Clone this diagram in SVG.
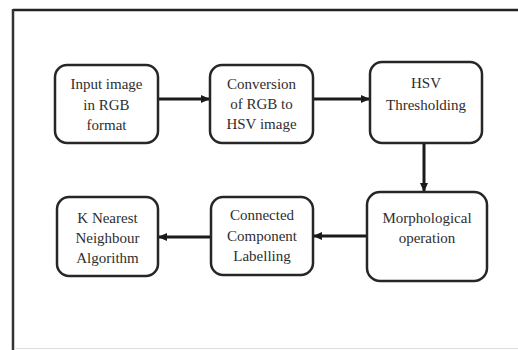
<svg xmlns="http://www.w3.org/2000/svg" width="518" height="350" viewBox="0 0 518 350">
<defs>
<marker id="ah" markerWidth="10" markerHeight="10" refX="8" refY="5" orient="auto" markerUnits="userSpaceOnUse">
<path d="M0,1 L9,5 L0,9 Z" fill="#1a1a1a"/>
</marker>
</defs>
<rect x="0" y="0" width="518" height="350" fill="#fff"/>
<g id="frame">
<line x1="13" y1="10" x2="518" y2="10" stroke="#222" stroke-width="2.5"/>
<line x1="13" y1="9" x2="13" y2="350" stroke="#333" stroke-width="2.5"/>
<line x1="14" y1="348.5" x2="518" y2="348.5" stroke="#ddd" stroke-width="1"/>
</g>
<g id="connectors" stroke="#1a1a1a" stroke-width="3" fill="none" marker-end="url(#ah)">
<line x1="158" y1="99" x2="209" y2="99"/>
<line x1="313" y1="99" x2="369" y2="99"/>
<line x1="424" y1="143" x2="424" y2="191"/>
<line x1="367" y1="236" x2="314" y2="236"/>
<line x1="211" y1="237" x2="159" y2="237"/>
</g>
<g id="nodes" font-family="Liberation Serif, serif" font-size="15" fill="#2e2e2e" text-anchor="middle">
<g id="n1"><rect fill="#fff" stroke="#262626" stroke-width="2.5" x="55" y="65" width="103" height="78" rx="12"/>
<text x="106.5" y="89">Input image</text><text x="106.5" y="110">in RGB</text><text x="106.5" y="130">format</text></g>
<g id="n2"><rect fill="#fff" stroke="#262626" stroke-width="2.5" x="210" y="65" width="103" height="78" rx="12"/>
<text x="261.5" y="89">Conversion</text><text x="261.5" y="109">of RGB to</text><text x="261.5" y="129">HSV image</text></g>
<g id="n3"><rect fill="#fff" stroke="#262626" stroke-width="2.5" x="370" y="62" width="112" height="81" rx="12"/>
<text x="426" y="88">HSV</text><text x="426" y="110">Thresholding</text></g>
<g id="n4"><rect fill="#fff" stroke="#262626" stroke-width="2.5" x="367" y="192" width="120" height="89" rx="13"/>
<text x="427" y="223">Morphological</text><text x="427" y="243">operation</text></g>
<g id="n5"><rect fill="#fff" stroke="#262626" stroke-width="2.5" x="211" y="197" width="102" height="78" rx="12"/>
<text x="262" y="220">Connected</text><text x="262" y="241">Component</text><text x="262" y="261">Labelling</text></g>
<g id="n6"><rect fill="#fff" stroke="#262626" stroke-width="2.5" x="57" y="197" width="101" height="79" rx="12"/>
<text x="107.5" y="223">K Nearest</text><text x="107.5" y="243">Neighbour</text><text x="107.5" y="263">Algorithm</text></g>
</g>
</svg>
